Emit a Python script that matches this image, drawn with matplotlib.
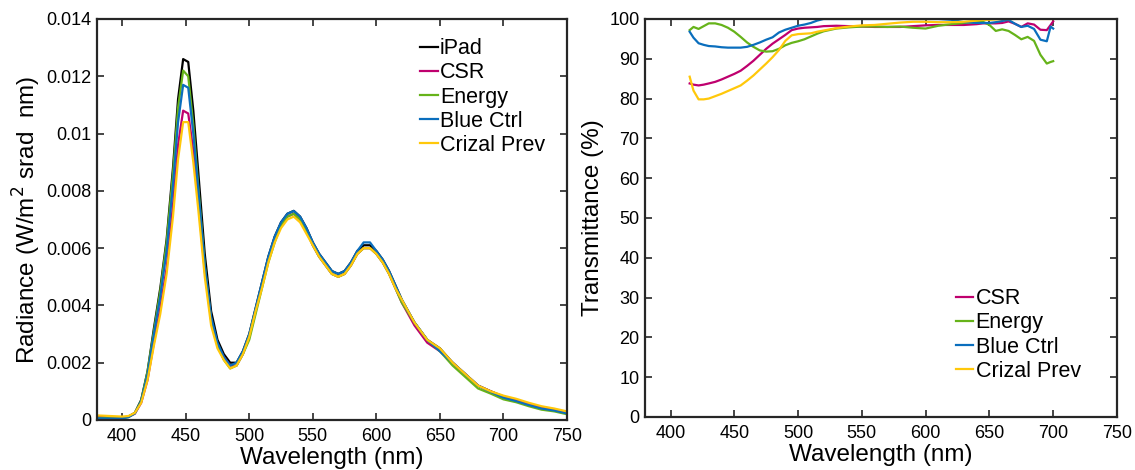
import numpy as np
import matplotlib
matplotlib.use("Agg")
import matplotlib.pyplot as plt

plt.rcParams['font.family'] = ['Liberation Sans', 'DejaVu Sans']

# ---- Radiance spectra (left) ----
wl_rad = [380, 390, 400, 405, 410, 415, 420, 425, 430, 435, 440, 444, 448, 452, 456,
          460, 465, 470, 475, 480, 485, 490, 495, 500, 505, 510, 515, 520, 525, 530,
          535, 540, 545, 550, 555, 560, 565, 570, 575, 580, 585, 590, 595, 600, 605,
          610, 615, 620, 630, 640, 650, 660, 670, 680, 690, 700, 710, 720, 730, 740, 750]

rad_ipad = [0.00010, 0.00008, 0.00008, 0.00012, 0.00025, 0.00070, 0.0017, 0.0032, 0.0046, 0.0063,
            0.0088, 0.0112, 0.0126, 0.0125, 0.0108, 0.0086, 0.0058, 0.0038, 0.0028, 0.0023,
            0.0020, 0.0020, 0.0024, 0.0030, 0.0039, 0.0048, 0.0057, 0.0064, 0.0069, 0.0072,
            0.0073, 0.0071, 0.0067, 0.0062, 0.0058, 0.0055, 0.0052, 0.0051, 0.0052, 0.0055,
            0.0059, 0.0061, 0.0061, 0.0059, 0.0056, 0.0052, 0.0047, 0.0042, 0.0034, 0.0028,
            0.0025, 0.0020, 0.0016, 0.0012, 0.0010, 0.00082, 0.00070, 0.00056, 0.00043, 0.00036, 0.00026]

rad_csr = [0.00010, 0.00008, 0.00008, 0.00011, 0.00022, 0.00060, 0.0014, 0.0027, 0.0039, 0.0053,
           0.0075, 0.0096, 0.0108, 0.0107, 0.0094, 0.0076, 0.0052, 0.0035, 0.0026, 0.0022,
           0.0019, 0.0019, 0.0023, 0.0029, 0.0038, 0.0047, 0.0056, 0.0063, 0.0068, 0.0071,
           0.0072, 0.0070, 0.0066, 0.0061, 0.0057, 0.0054, 0.0051, 0.0050, 0.0051, 0.0054,
           0.0058, 0.0060, 0.0060, 0.0058, 0.0055, 0.0051, 0.0046, 0.0041, 0.0033, 0.0027,
           0.0024, 0.0020, 0.0016, 0.0012, 0.0010, 0.00080, 0.00069, 0.00055, 0.00042, 0.00035, 0.00025]

rad_energy = [0.00008, 0.00006, 0.00006, 0.00010, 0.00024, 0.00068, 0.0017, 0.0031, 0.0045, 0.0062,
              0.0086, 0.0109, 0.0122, 0.0120, 0.0103, 0.0081, 0.0054, 0.0035, 0.0026, 0.0021,
              0.0018, 0.0019, 0.0023, 0.0028, 0.0037, 0.0046, 0.0055, 0.0062, 0.0068, 0.0071,
              0.0072, 0.0070, 0.0066, 0.0061, 0.0057, 0.0054, 0.0051, 0.0050, 0.0051, 0.0054,
              0.0058, 0.0060, 0.0060, 0.0058, 0.0055, 0.0051, 0.0046, 0.0041, 0.0034, 0.0028,
              0.0024, 0.0019, 0.0015, 0.0011, 0.00092, 0.00072, 0.00062, 0.00048, 0.00036, 0.00030, 0.00020]

rad_blue = [0.00006, 0.00005, 0.00006, 0.00010, 0.00023, 0.00066, 0.0016, 0.0030, 0.0043, 0.0059,
            0.0082, 0.0104, 0.0117, 0.0116, 0.0100, 0.0080, 0.0054, 0.0036, 0.0027, 0.0022,
            0.0019, 0.0020, 0.0024, 0.0030, 0.0039, 0.0048, 0.0057, 0.0064, 0.0069, 0.0072,
            0.0073, 0.0071, 0.0067, 0.0062, 0.0058, 0.0055, 0.0052, 0.0051, 0.0052, 0.0055,
            0.0059, 0.0062, 0.0062, 0.0059, 0.0056, 0.0052, 0.0047, 0.0042, 0.0034, 0.0028,
            0.0024, 0.0020, 0.0016, 0.0012, 0.00098, 0.00078, 0.00066, 0.00052, 0.00040, 0.00033, 0.00023]

rad_crizal = [0.00016, 0.00014, 0.00012, 0.00014, 0.00025, 0.00060, 0.0014, 0.0026, 0.0037, 0.0051,
              0.0071, 0.0091, 0.0104, 0.0104, 0.0090, 0.0073, 0.0050, 0.0033, 0.0025, 0.0021,
              0.0018, 0.0019, 0.0023, 0.0029, 0.0038, 0.0046, 0.0055, 0.0062, 0.0067, 0.0070,
              0.0071, 0.0069, 0.0065, 0.0061, 0.0057, 0.0054, 0.0051, 0.0050, 0.0051, 0.0054,
              0.0058, 0.0060, 0.0060, 0.0058, 0.0055, 0.0051, 0.0046, 0.0042, 0.0034, 0.0028,
              0.0025, 0.0020, 0.0016, 0.0012, 0.0010, 0.00085, 0.00074, 0.00060, 0.00048, 0.00040, 0.00030]

# ---- Transmittance (right) ----
wl_tr = [415, 418, 422, 426, 430, 435, 440, 445, 450, 455, 460, 465, 470, 475, 480, 485, 490,
         495, 500, 505, 510, 515, 520, 530, 540, 550, 560, 570, 580, 590, 600, 610, 620, 630,
         640, 645, 650, 655, 660, 665, 670, 675, 680, 685, 690, 695, 698, 700]

tr_csr = [83.8, 83.5, 83.3, 83.5, 83.8, 84.2, 84.8, 85.5, 86.2, 87.0, 88.2, 89.5, 91.0, 92.5,
          93.8, 94.9, 96.0, 97.2, 97.6, 97.8, 97.9, 98.0, 98.2, 98.3, 98.2, 98.1, 98.0, 98.0,
          98.0, 98.2, 98.4, 98.5, 98.5, 98.5, 98.7, 98.9, 98.9, 98.9, 99.0, 99.4, 98.8, 98.0,
          98.9, 98.6, 97.3, 97.2, 98.5, 99.4]

tr_energy = [97.2, 98.0, 97.5, 98.2, 98.9, 98.9, 98.5, 97.8, 96.8, 95.5, 94.1, 93.0, 92.1, 91.8,
             91.9, 92.5, 93.4, 94.0, 94.4, 94.9, 95.6, 96.3, 96.9, 97.6, 97.9, 98.1, 98.1, 98.0,
             98.1, 97.8, 97.6, 98.3, 98.7, 99.0, 99.2, 99.3, 98.5, 97.0, 97.4, 97.0, 96.0, 94.9,
             95.5, 94.5, 91.0, 88.8, 89.2, 89.4]

tr_blue = [96.8, 95.3, 93.9, 93.5, 93.2, 93.1, 92.9, 92.8, 92.8, 92.8, 93.0, 93.5, 94.1, 94.8,
           95.4, 96.6, 97.3, 97.8, 98.3, 98.6, 99.0, 99.6, 100, 100, 100, 100, 100, 100,
           100, 100, 100, 100, 99.8, 99.2, 99.0, 99.0, 99.0, 99.2, 99.5, 99.8, 98.8, 98.0,
           98.3, 97.5, 94.8, 94.4, 98.1, 97.6]

tr_crizal = [85.5, 82.0, 79.8, 79.8, 80.0, 80.6, 81.2, 81.9, 82.6, 83.3, 84.5, 85.8, 87.3, 88.8,
             90.4, 92.2, 94.5, 95.9, 96.2, 96.3, 96.4, 96.8, 97.1, 97.7, 98.1, 98.4, 98.5, 98.8,
             99.1, 99.3, 99.3, 99.2, 99.2, 99.3, 99.6, 99.8, 99.8, 99.9, 100, 100, 100, 100,
             100, 100, 100, 100, 100, 100]

c_ipad = '#000000'
c_csr = '#BF006E'
c_energy = '#66B31A'
c_blue = '#0A6EBD'
c_crizal = '#FFC80A'
spine_col = '#262626'

fig = plt.figure(figsize=(11.35, 4.70), dpi=100)
ax1 = fig.add_axes([0.0852, 0.1064, 0.4144, 0.8532])
ax2 = fig.add_axes([0.5683, 0.1130, 0.4158, 0.8466])

lw = 1.6
ax1.plot(wl_rad, rad_ipad, color=c_ipad, lw=lw, label='iPad')
ax1.plot(wl_rad, rad_csr, color=c_csr, lw=lw, label='CSR')
ax1.plot(wl_rad, rad_energy, color=c_energy, lw=lw, label='Energy')
ax1.plot(wl_rad, rad_blue, color=c_blue, lw=lw, label='Blue Ctrl')
ax1.plot(wl_rad, rad_crizal, color=c_crizal, lw=lw, label='Crizal Prev')

ax2.plot(wl_tr, tr_csr, color=c_csr, lw=lw, label='CSR')
ax2.plot(wl_tr, tr_energy, color=c_energy, lw=lw, label='Energy')
ax2.plot(wl_tr, tr_blue, color=c_blue, lw=lw, label='Blue Ctrl')
ax2.plot(wl_tr, tr_crizal, color=c_crizal, lw=lw, label='Crizal Prev')

ax1.set_xlim(380, 750)
ax1.set_ylim(0, 0.014)
ax1.set_yticks(np.arange(0, 0.0141, 0.002))
ax1.set_yticklabels(['0', '0.002', '0.004', '0.006', '0.008', '0.01', '0.012', '0.014'])
ax2.set_xlim(380, 750)
ax2.set_ylim(0, 100)
ax2.set_yticks(range(0, 101, 10))

for ax in (ax1, ax2):
    ax.set_xticks(range(400, 751, 50))
    ax.tick_params(direction='in', top=True, right=True, length=5, width=1.2,
                   labelsize=13, color=spine_col, pad=4)
    ax.tick_params(axis='x', pad=6)
    for s in ax.spines.values():
        s.set_linewidth(1.6)
        s.set_color(spine_col)
    ax.set_xlabel('Wavelength (nm)', fontsize=17.5, labelpad=1)

ax1.set_ylabel('Radiance (W/m$^2$ srad  nm)', fontsize=17.5, labelpad=2)
ax2.set_ylabel('Transmittance (%)', fontsize=17.5, labelpad=4)

leg_kw = dict(frameon=False, fontsize=15.5, handlelength=0.8, handletextpad=0.1,
              labelspacing=0.15, borderaxespad=0.3)
ax1.legend(loc='upper right', bbox_to_anchor=(0.985, 0.99), **leg_kw)
ax2.legend(loc='lower right', bbox_to_anchor=(0.955, 0.05), **leg_kw)

fig.savefig('out.png', dpi=100)
